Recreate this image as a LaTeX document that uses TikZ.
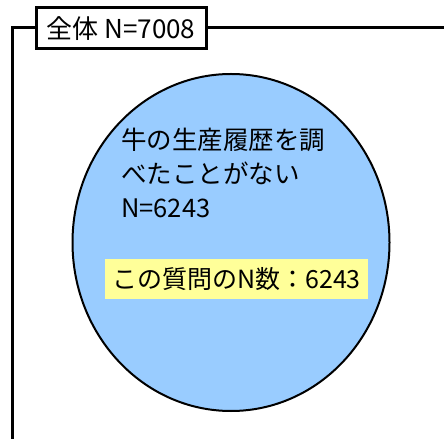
\documentclass[tikz,border=0pt]{standalone}
\usepackage{fontspec}
\setmainfont{Noto Sans CJK JP}
\usetikzlibrary{shapes.geometric}
\definecolor{ellblue}{HTML}{99CCFF}
\definecolor{noteyellow}{HTML}{FFFF99}
\tikzset{
  frameline/.style={line width=3pt},
  labelbox/.style={draw, line width=3pt, fill=white, minimum width=170pt, minimum height=41pt, inner sep=0pt, font=\fontsize{26}{28}\selectfont},
  bubble/.style={ellipse, draw, line width=2pt, fill=ellblue, minimum width=317pt, minimum height=337pt, inner sep=0pt},
  bodytext/.style={anchor=west, inner sep=0pt, font=\fontsize{25.5}{28}\selectfont},
  notebox/.style={fill=noteyellow, minimum width=263pt, minimum height=40pt, inner sep=0pt, font=\fontsize{25}{28}\selectfont},
}
\begin{document}
\begin{tikzpicture}[x=1pt,y=1pt]
\useasboundingbox (0,0) rectangle (444,439);
\coordinate (fr) at (444,411);
\coordinate (fc) at (12,411);
\coordinate (fb) at (12,0);
\draw[frameline] (fr) -- (fc) -- (fb);
\node[labelbox] (lab) at (121,410.5) {全体 N=7008};
\node[bubble] (ell) at (231,196.5) {};
\node[bodytext] (t1) at (121,299) {牛の生産履歴を調};
\node[bodytext] (t2) at (121,266) {べたことがない};
\node[bodytext] (t3) at (121,231) {N=6243};
\node[notebox] (note) at (236.5,160) {この質問のN数：6243};
\end{tikzpicture}
\end{document}
